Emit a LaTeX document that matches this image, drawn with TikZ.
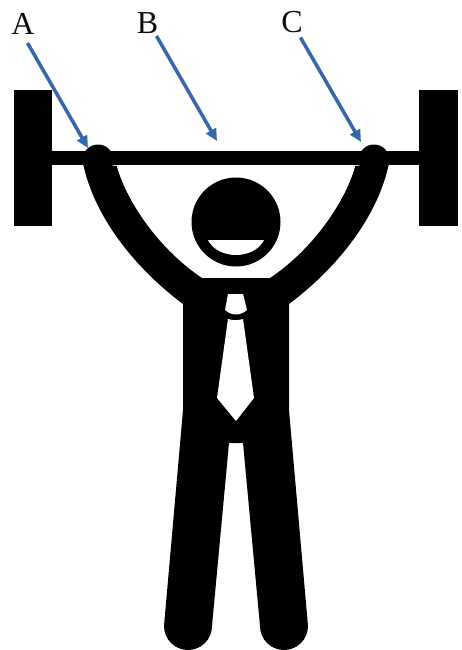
\documentclass[tikz,border=0pt]{standalone}
\usepackage{fontspec}
\setmainfont{Liberation Serif}
\usetikzlibrary{arrows.meta}
\definecolor{arrowblue}{RGB}{54,103,168}
\tikzset{
  pointer/.style={draw=arrowblue,line width=3.5pt,-{Triangle[length=12pt,width=11pt]},shorten >=0pt},
  letter/.style={font=\fontsize{32}{32}\selectfont,inner sep=0pt,text=black!95},
  ink/.style={fill=black,draw=none},
  gap/.style={fill=white,draw=none}
}
\begin{document}
\begin{tikzpicture}[x=1pt,y=-1pt]
\useasboundingbox[fill=white] (0,0) rectangle (462,650);
% plates and bar
\fill[ink] (14,90) rectangle (52,226);
\fill[ink] (419,90) rectangle (458,226);
\fill[ink] (52,151) rectangle (419,165);
% hands
\fill[ink] (98,160) circle[radius=15.5];
\fill[ink] (374,160) circle[radius=15.5];
% body, arms, legs
\fill[ink] (83,163)
  .. controls (93,213) and (131,265) .. (183,304)
  -- (183,410) -- (164,626)
  arc[start angle=180,end angle=0,radius=24]
  -- (229,443) -- (243,443) -- (260,626)
  arc[start angle=180,end angle=0,radius=24]
  -- (289,410) -- (289,304)
  .. controls (341,265) and (379,213) .. (389,163)
  -- (355.3,166)
  .. controls (345,203) and (312,250) .. (270,278)
  -- (202,278)
  .. controls (160,250) and (127,203) .. (116.7,166)
  -- cycle;
% head
\node[ink,circle,minimum size=89pt,inner sep=0pt] (head) at (236,222) {};
\fill[gap] (208,240) -- (264,240) .. controls (254,260) and (218,260) .. (208,240) -- cycle;
% tie
\fill[gap] (228,294) -- (243,294) -- (247,310) .. controls (240,316) and (232,316) .. (225,310) -- cycle;
\fill[gap] (228,319) .. controls (233,320.5) and (238,320.5) .. (243,319) -- (254,398) -- (236,421) -- (217,398) -- cycle;
% labels and pointers
\node[letter] (A) at (23,24) {A};
\node[letter] (B) at (147.5,23) {B};
\node[letter] (C) at (292,22.5) {C};
\coordinate (Astart) at (27.5,43);
\coordinate (Bstart) at (156.5,36);
\coordinate (Cstart) at (300.5,37.5);
\coordinate (Aend) at (88,148);
\coordinate (Bend) at (217,141);
\coordinate (Cend) at (361,142);
\draw[pointer] (Astart) -- (Aend);
\draw[pointer] (Bstart) -- (Bend);
\draw[pointer] (Cstart) -- (Cend);
\end{tikzpicture}
\end{document}
